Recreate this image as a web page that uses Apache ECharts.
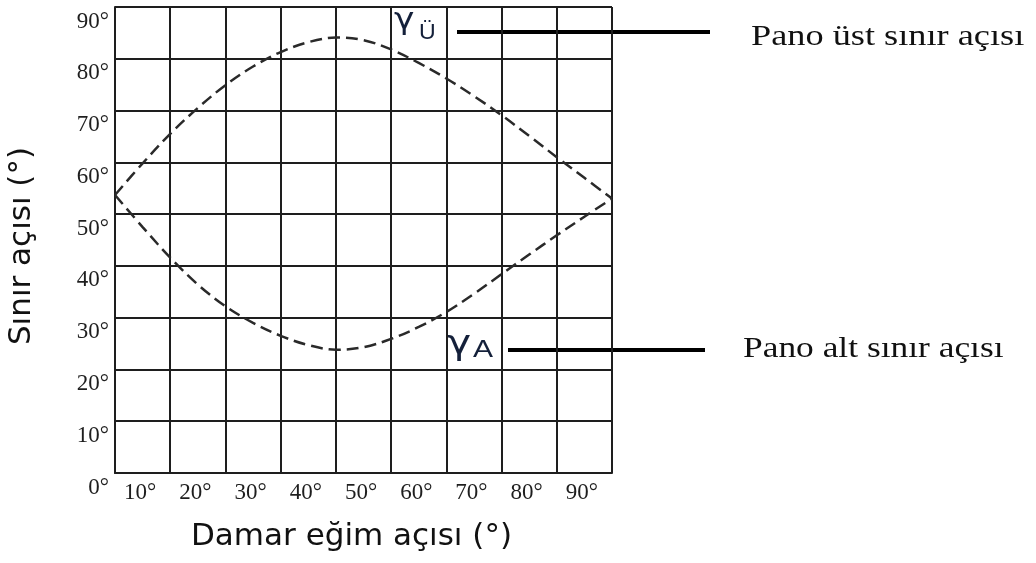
<!DOCTYPE html>
<html>
<head>
<meta charset="utf-8">
<script src="https://cdn.jsdelivr.net/npm/echarts@6/dist/echarts.min.js"></script>
<style>
html,body{margin:0;padding:0;background:#fff;}
#chart{width:1036px;height:563px;}
</style>
</head>
<body>
<div id="chart"></div>
<script>
// Damar eğim açısı (x) values
const dipAngles = [0, 5, 10, 15, 20, 25, 30, 35, 40, 45, 50, 55, 60, 65, 70, 75, 80, 85, 90];
// γÜ : Pano üst sınır açısı
const upperAngles = [53.7, 59.8, 65.5, 70.5, 74.9, 78.5, 81.3, 83.2, 84.1, 83.6, 81.8, 79.2, 76.2, 72.8, 69.1, 65.1, 61.0, 57.0, 53.0];
// γA : Pano alt sınır açısı
const lowerAngles = [53.7, 47.5, 41.6, 36.4, 32.2, 29.0, 26.5, 24.7, 23.8, 24.3, 25.9, 28.2, 31.1, 34.6, 38.4, 42.2, 45.9, 49.5, 53.0];
// axis ticks
const axisMin = 0, axisMax = 90, axisStep = 10;
const degSuffix = '°';
const xTitle = 'Damar eğim açısı (°)';
const yTitle = 'Sınır açısı (°)';
const upperLabel = 'Pano üst sınır açısı';
const lowerLabel = 'Pano alt sınır açısı';

const chart = echarts.init(document.getElementById('chart'), null, {renderer: 'canvas'});

const gridColor = '#1e1e1e';
const tickFont = {fontFamily: 'Liberation Serif', fontSize: 23, color: '#1e1e1e'};

const option = {
  backgroundColor: '#fff',
  animation: false,
  grid: {left: 115, right: 424, top: 7, bottom: 90, show: false},
  xAxis: {
    type: 'value', min: axisMin, max: axisMax, interval: axisStep,
    axisLine: {show: true, lineStyle: {color: gridColor, width: 2}},
    axisTick: {show: false},
    splitLine: {show: true, lineStyle: {color: gridColor, width: 2}},
    axisLabel: Object.assign({
      showMinLabel: false, align: 'right', margin: 8, padding: [0, 14, 0, 0],
      formatter: v => v + degSuffix
    }, tickFont),
    name: xTitle, nameLocation: 'middle', nameGap: 48,
    nameTextStyle: {fontFamily: 'DejaVu Sans', fontSize: 31, color: '#111', padding: [0, 24, 0, 0]}
  },
  yAxis: {
    type: 'value', min: axisMin, max: axisMax, interval: axisStep,
    axisLine: {show: true, lineStyle: {color: gridColor, width: 2}},
    axisTick: {show: false},
    splitLine: {show: true, lineStyle: {color: gridColor, width: 2}},
    axisLabel: Object.assign({
      verticalAlign: 'top', margin: 6, padding: [3, 0, 0, 0],
      formatter: v => v + degSuffix
    }, tickFont),
    name: yTitle, nameLocation: 'middle', nameGap: 78,
    nameTextStyle: {fontFamily: 'DejaVu Sans', fontSize: 31, color: '#111', padding: [0, 12, 0, 0]}
  },
  series: [
    {
      name: upperLabel, type: 'line', smooth: 0.35, symbol: 'none',
      data: dipAngles.map((d, i) => [d, upperAngles[i]]),
      lineStyle: {color: '#2a2a2a', width: 2.5, type: [12, 6]}
    },
    {
      name: lowerLabel, type: 'line', smooth: 0.35, symbol: 'none',
      data: dipAngles.map((d, i) => [d, lowerAngles[i]]),
      lineStyle: {color: '#2a2a2a', width: 2.5, type: [12, 6]}
    }
  ],
  graphic: [
    // γÜ label
    {type: 'text', x: 394, y: 36, scaleX: 1.15, style: {text: 'γ', font: '30px "DejaVu Sans"', fill: '#14203a', textAlign: 'left', textVerticalAlign: 'bottom'}},
    {type: 'text', x: 419, y: 44, scaleX: 1.05, style: {text: 'Ü', font: '22px "Liberation Sans"', fill: '#14203a', textAlign: 'left', textVerticalAlign: 'bottom'}},
    {type: 'line', shape: {x1: 457, y1: 32, x2: 710, y2: 32}, style: {stroke: '#000', lineWidth: 4}},
    {type: 'text', x: 751, y: 37, scaleX: 1.21, style: {text: upperLabel, font: '30px "Liberation Serif"', fill: '#111', textAlign: 'left', textVerticalAlign: 'middle'}},
    // γA label
    {type: 'text', x: 447, y: 362, scaleX: 1.2, style: {text: 'γ', font: '34px "DejaVu Sans"', fill: '#14203a', textAlign: 'left', textVerticalAlign: 'bottom'}},
    {type: 'text', x: 473, y: 362, scaleX: 1.25, style: {text: 'A', font: '24px "Liberation Sans"', fill: '#14203a', textAlign: 'left', textVerticalAlign: 'bottom'}},
    {type: 'line', shape: {x1: 508, y1: 350, x2: 705, y2: 350}, style: {stroke: '#000', lineWidth: 4}},
    {type: 'text', x: 743, y: 349, scaleX: 1.18, style: {text: lowerLabel, font: '30px "Liberation Serif"', fill: '#111', textAlign: 'left', textVerticalAlign: 'middle'}}
  ]
};
chart.setOption(option);
</script>
</body>
</html>
